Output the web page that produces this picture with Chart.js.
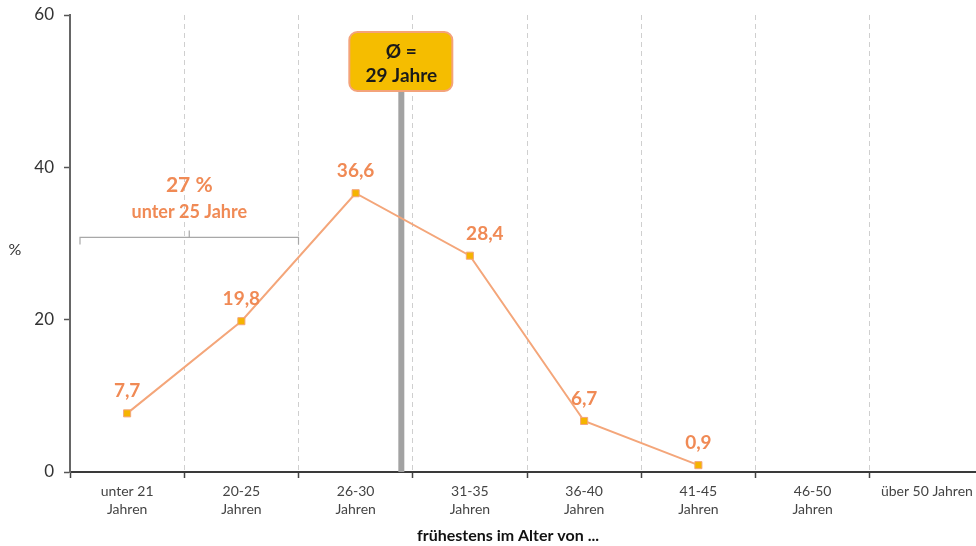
<!DOCTYPE html>
<html>
<head>
<meta charset="utf-8">
<script src="https://cdn.jsdelivr.net/npm/chart.js"></script>
<style>
  html, body { margin: 0; padding: 0; background: #fff; overflow: hidden; }
  #wrap { width: 976px; height: 546px; overflow: hidden; }
</style>
</head>
<body>
<div id="wrap"><canvas id="myChart" width="990" height="546"></canvas></div>
<script>
// Chart data
const categories = [
  ['unter 21', 'Jahren'], ['20-25', 'Jahren'], ['26-30', 'Jahren'], ['31-35', 'Jahren'],
  ['36-40', 'Jahren'], ['41-45', 'Jahren'], ['46-50', 'Jahren'], 'über 50 Jahren'
];
const shares = [7.7, 19.8, 36.6, 28.4, 6.7, 0.9, null, null];
const yTicks = [0, 20, 40, 60];
const meanLabel = ['Ø =', '29 Jahre'];
const meanPosition = 2.4;          // position on the category axis
const bracketLabel = ['27 %', 'unter 25 Jahre'];
const bracketValue = 30.8;         // height of the bracket in %
const xTitle = 'frühestens im Alter von ...';

const FONT = 'Lato, "Open Sans", sans-serif';
const ORANGE = '#f08a55';

function fmt(v) { return String(v).replace('.', ','); }

// annotations: mean line, bracket, value labels, "%" label, axis title
const extras = {
  id: 'extras',
  beforeDatasetsDraw(chart) {
    const { ctx, scales: { x, y } } = chart;
    const mx = x.getPixelForValue(meanPosition);
    ctx.save();
    ctx.fillStyle = '#a2a2a2';
    ctx.fillRect(mx - 3, 80, 6, y.getPixelForValue(0) - 80);

    // bracket
    const bx0 = x.left + 10;
    const bx1 = (x.getPixelForValue(1) + x.getPixelForValue(2)) / 2;
    const bc = (bx0 + bx1) / 2;
    const by = y.getPixelForValue(bracketValue);
    ctx.strokeStyle = '#a8a8a8';
    ctx.lineWidth = 1.2;
    ctx.beginPath();
    ctx.moveTo(bx0, by + 7);
    ctx.lineTo(bx0, by);
    ctx.lineTo(bx1, by);
    ctx.lineTo(bx1, by + 7);
    ctx.moveTo(bc, by);
    ctx.lineTo(bc, by - 7);
    ctx.stroke();
    ctx.fillStyle = ORANGE;
    ctx.textAlign = 'center';
    ctx.textBaseline = 'middle';
    ctx.font = 'bold 21px ' + FONT;
    ctx.fillText(bracketLabel[0], bc, by - 52);
    ctx.font = 'bold 18px ' + FONT;
    ctx.fillText(bracketLabel[1], bc, by - 25);

    // "%" label
    ctx.fillStyle = '#333';
    ctx.font = '16px ' + FONT;
    ctx.fillText('%', 15, 250);

    // x axis title
    ctx.fillStyle = '#111';
    ctx.font = 'bold 16px ' + FONT;
    ctx.fillText(xTitle, 508, 536);
    ctx.restore();
  },
  afterDatasetsDraw(chart) {
    const { ctx, scales: { x } } = chart;
    const mx = x.getPixelForValue(meanPosition);
    ctx.save();
    // mean box
    const bw = 103, bh = 59, bx = mx - 52, by = 32;
    ctx.beginPath();
    ctx.roundRect(bx, by, bw, bh, 8);
    ctx.fillStyle = '#f5bd00';
    ctx.fill();
    ctx.lineWidth = 2;
    ctx.strokeStyle = '#f4a37a';
    ctx.stroke();
    ctx.fillStyle = '#1a1a1a';
    ctx.font = 'bold 19px ' + FONT;
    ctx.textAlign = 'center';
    ctx.textBaseline = 'middle';
    ctx.fillText(meanLabel[0], mx, by + 20);
    ctx.fillText(meanLabel[1], mx, by + 44);

    // value labels
    const meta = chart.getDatasetMeta(0);
    ctx.fillStyle = ORANGE;
    ctx.font = 'bold 19px ' + FONT;
    meta.data.forEach((pt, i) => {
      const v = shares[i];
      if (v === null) return;
      const dx = i === 3 ? 15 : 0;
      ctx.fillText(fmt(v), pt.x + dx, pt.y - 22);
    });
    ctx.restore();
  }
};

const ctx = document.getElementById('myChart').getContext('2d');
new Chart(ctx, {
  type: 'line',
  data: {
    labels: categories,
    datasets: [{
      data: shares,
      borderColor: '#f4a67a',
      borderWidth: 2,
      pointStyle: 'rect',
      pointRadius: 5,
      pointBackgroundColor: '#f5b400',
      pointBorderColor: '#f4a67a',
      pointBorderWidth: 1,
      spanGaps: false,
      tension: 0
    }]
  },
  options: {
    responsive: false,
    animation: false,
    layout: { padding: { top: 15, right: 6, left: 0, bottom: 0 } },
    plugins: {
      legend: { display: false },
      tooltip: { enabled: false }
    },
    scales: {
      x: {
        offset: true,
        grid: {
          offset: true,
          color: (c) => c.index === 0 ? 'rgba(0,0,0,0)' : '#cfcfcf',
          lineWidth: 1,
          drawTicks: true,
          tickLength: 6,
          tickColor: '#444',
          tickWidth: 1.5
        },
        border: { display: true, color: '#3a3a3a', width: 2, dash: [5, 4] },
        ticks: {
          color: '#444',
          font: { family: FONT, size: 14, lineHeight: 1.3 },
          padding: 4,
          maxRotation: 0,
          autoSkip: false
        },
        afterFit(scale) { scale.height = 74; }
      },
      y: {
        min: 0,
        max: 60,
        afterBuildTicks(scale) { scale.ticks = yTicks.map(v => ({ value: v })); },
        grid: {
          drawOnChartArea: false,
          drawTicks: true,
          tickLength: 6,
          tickColor: '#555',
          tickWidth: 1.5
        },
        border: { display: true, color: '#666', width: 2 },
        ticks: {
          color: '#333',
          font: { family: FONT, size: 17 },
          padding: 10
        },
        afterFit(scale) {
          scale.width = 70;
          scale.paddingTop = 0;
          scale.paddingBottom = 0;
        }
      }
    }
  },
  plugins: [extras]
});
</script>
</body>
</html>
